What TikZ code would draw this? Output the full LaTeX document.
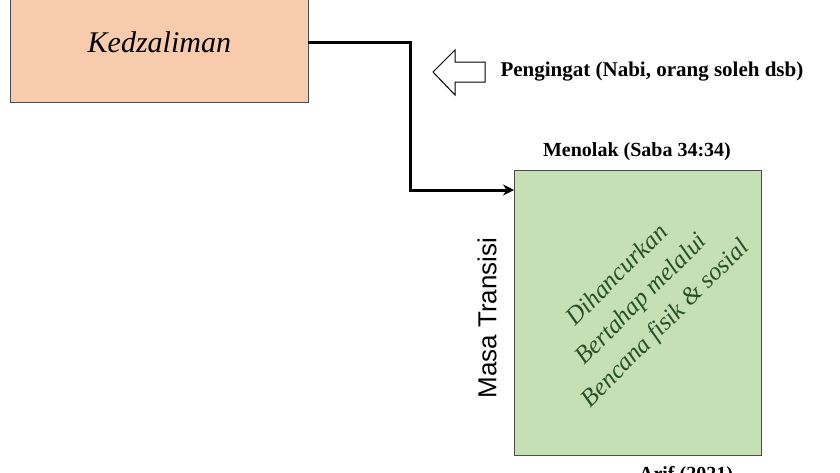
\documentclass[tikz,border=0pt]{standalone}
\usepackage{fontspec}
\setmainfont{Liberation Serif}
\setsansfont{Liberation Sans}
\usepackage{tikz}
\usetikzlibrary{arrows.meta}

\definecolor{boxorange}{RGB}{248,203,173}
\definecolor{boxgreen}{RGB}{197,224,180}
\definecolor{textgreen}{RGB}{40,80,40}

\begin{document}
\begin{tikzpicture}[x=1pt,y=-1pt,
      box/.style={draw=black!70, thick, inner sep=0pt},
      label/.style={font=\bfseries}
      ]
    \useasboundingbox (0,0) rectangle (840,472);
    \node[box, fill=boxorange, minimum width=298, minimum height=120, anchor=north west] (K) at (10,-18) {};
    \node[font=\itshape\fontsize{30}{32}\selectfont] (Kt) at (K.center) {Kedzaliman};
    \node[box, fill=boxgreen, minimum width=247, minimum height=285, anchor=north west] (G) at (514,170) {};
    \coordinate (turn) at (410,42);
    \draw[line width=3pt, -{Stealth[length=11pt,width=11pt]}] (308,42) -- (turn) |- (G.west |- 0,190);
    % open arrow
    \draw[line width=1pt, fill=white] (433,72) -- (455,50) -- (455,62) -- (485,62) -- (485,82)
      -- (455,82) -- (455,95) -- cycle;
    \node[label, font=\bfseries\fontsize{21}{23}\selectfont, anchor=west] (Pt) at (497,72) {Pengingat (Nabi, orang soleh dsb)};
    \node[label, font=\bfseries\fontsize{20}{22}\selectfont] (M) at (637,152) {Menolak (Saba 34:34)};
    \node[font=\sffamily\fontsize{26}{28}\selectfont, rotate=90] (T) at (487,318) {Masa Transisi};
    \node[text=textgreen, font=\itshape\fontsize{25}{34}\selectfont, rotate=45, align=center] (D) at (642,300)
      {Dihancurkan\\Bertahap melalui\\Bencana fisik \& sosial};
    \node[label, font=\bfseries\scshape\fontsize{20}{22}\selectfont] (A) at (686,476) {Arif (2021)};
\end{tikzpicture}
\end{document}
